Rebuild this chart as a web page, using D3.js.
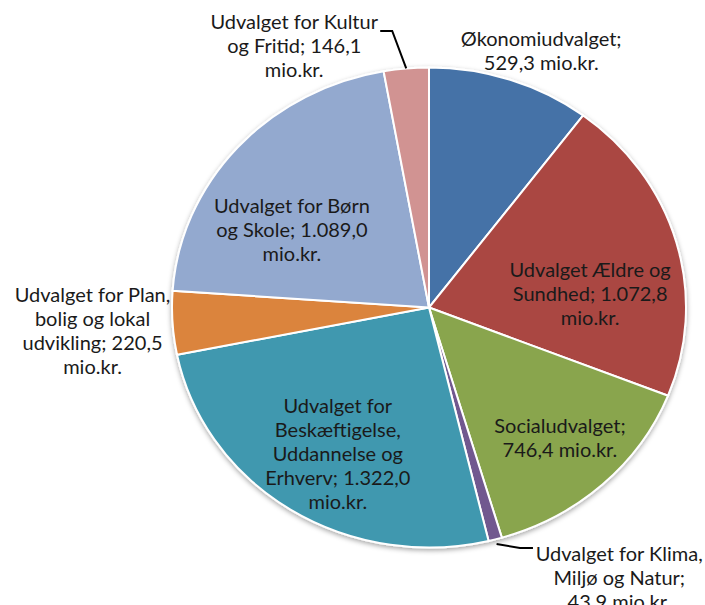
<!DOCTYPE html>
<html>
<head>
<meta charset="utf-8">
<script src="https://cdn.jsdelivr.net/npm/d3@7"></script>
<style>
  body { margin: 0; background: #fff; }
  svg { display: block; }
  .lbl { font-family: "Lato", "DejaVu Sans", sans-serif; font-size: 20px; fill: #1a1a1a; }
</style>
</head>
<body>
<svg id="chart" width="705" height="605"></svg>
<script>
// Budget per committee (mio.kr.)
var categories = ["Økonomiudvalget", "Udvalget Ældre og Sundhed", "Socialudvalget",
    "Udvalget for Klima, Miljø og Natur", "Udvalget for Beskæftigelse, Uddannelse og Erhverv",
    "Udvalget for Plan, bolig og lokal udvikling", "Udvalget for Børn og Skole",
    "Udvalget for Kultur og Fritid"];
var values = [529.3, 1072.8, 746.4, 43.9, 1322.0, 220.5, 1089.0, 146.1];
var labelLines = [
    ["Økonomiudvalget;", "529,3 mio.kr."],
    ["Udvalget Ældre og", "Sundhed; 1.072,8", "mio.kr."],
    ["Socialudvalget;", "746,4 mio.kr."],
    ["Udvalget for Klima,", "Miljø og Natur;", "43.9 mio.kr."],
    ["Udvalget for", "Beskæftigelse,", "Uddannelse og", "Erhverv; 1.322,0", "mio.kr."],
    ["Udvalget for Plan,", "bolig og lokal", "udvikling; 220,5", "mio.kr."],
    ["Udvalget for Børn", "og Skole; 1.089,0", "mio.kr."],
    ["Udvalget for Kultur", "og Fritid; 146,1", "mio.kr."]
];
var colors = ["#4572A7", "#AA4643", "#89A54E", "#71588F", "#4198AF", "#DB843D", "#93A9CF", "#D19392"];

// layout
var cx = 429, cy = 307.5, radius = 240, stretchX = 257 / 240;
var lineHeight = 24;
// label placement: radius factor of the anchor, then a nudge in pixels
var labelLayout = [
    {r: 1.0, dx: 31, dy: -29},
    {r: 0.68, dx: -7, dy: 31},
    {r: 0.68, dx: 13, dy: 10},
    {r: 1.0, dx: 124, dy: 39, leader: [[1.02, 0, 0], [1, 24.7, 8.7], [1, 37.7, 8.7]]},
    {r: 0.68, dx: 3, dy: 9},
    {r: 1.0, dx: -80, dy: 8},
    {r: 0.68, dx: -7, dy: 31.5},
    {r: 1.0, dx: -112, dy: -22.5, leader: [[1, 0, 0], [1, -14, -37.5], [1, -26, -37.5]]}
];

var data = categories.map(function(c, i) {
    return {name: c, value: values[i], lines: labelLines[i], color: colors[i], layout: labelLayout[i]};
});

var svg = d3.select('#chart');

var defs = svg.append('defs');
var shadow = defs.append('filter').attr('id', 'shadow')
    .attr('x', '-10%').attr('y', '-10%').attr('width', '120%').attr('height', '120%');
shadow.append('feDropShadow')
    .attr('dx', 0).attr('dy', 2).attr('stdDeviation', 2.5)
    .attr('flood-color', '#000').attr('flood-opacity', 0.35);

var pie = d3.pie().sort(null).value(function(d) { return d.value; });
var arcs = pie(data);

var arc = d3.arc().innerRadius(0).outerRadius(radius);

var pieGroup = svg.append('g')
    .attr('transform', `translate(${cx}, ${cy}) scale(${stretchX}, 1)`)
    .attr('filter', 'url(#shadow)');

pieGroup.selectAll('path')
    .data(arcs)
    .enter()
    .append('path')
    .attr('d', arc)
    .attr('fill', function(d) { return d.data.color; })
    .attr('stroke', '#fff')
    .attr('stroke-width', 2)
    .attr('vector-effect', 'non-scaling-stroke');

// point on the (stretched) pie at a given angle and radius factor
function piePoint(angle, factor) {
    return [cx + Math.sin(angle) * radius * factor * stretchX,
            cy - Math.cos(angle) * radius * factor];
}

arcs.forEach(function(d) {
    var mid = (d.startAngle + d.endAngle) / 2;
    var lay = d.data.layout;
    var anchor = piePoint(mid, lay.r);
    var x = anchor[0] + lay.dx;
    var y = anchor[1] + lay.dy;
    var n = d.data.lines.length;

    var text = svg.append('text')
        .attr('class', 'lbl')
        .attr('text-anchor', 'middle');
    d.data.lines.forEach(function(line, i) {
        text.append('tspan')
            .attr('x', x)
            .attr('y', y + (i - (n - 1) / 2) * lineHeight)
            .attr('dy', '0.35em')
            .text(line);
    });

    if (lay.leader) {
        var edge = piePoint(mid, 1);
        var pts = lay.leader.map(function(p) {
            var base = piePoint(mid, p[0]);
            return p[1] === 0 && p[2] === 0 ? base : [edge[0] + p[1], edge[1] + p[2]];
        });
        svg.append('path')
            .attr('d', d3.line()(pts))
            .attr('fill', 'none')
            .attr('stroke', '#000')
            .attr('stroke-width', 2);
    }
});
</script>
</body>
</html>
